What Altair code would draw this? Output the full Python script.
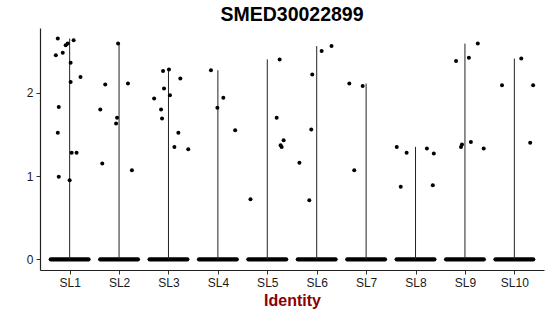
import altair as alt
import pandas as pd

groups = ["SL1", "SL2", "SL3", "SL4", "SL5", "SL6", "SL7", "SL8", "SL9", "SL10"]

# non-zero expression points: group, horizontal jitter (fraction of category spacing), value
pt_group = (["SL1"] * 15 + ["SL2"] * 8 + ["SL3"] * 11 + ["SL4"] * 4 + ["SL5"] * 6 +
            ["SL6"] * 6 + ["SL7"] * 3 + ["SL8"] * 6 + ["SL9"] * 7 + ["SL10"] * 4)
pt_jitter = [
    -0.24, 0.08, -0.28, -0.14, -0.08, -0.04, 0.02, 0.02, 0.22, -0.22, -0.24, 0.04, 0.14, -0.22, 0.00,
    -0.02, -0.28, 0.18, -0.38, -0.04, -0.06, -0.34, 0.26,
    -0.11, 0.01, 0.24, -0.09, -0.29, 0.03, -0.15, -0.13, 0.20, 0.12, 0.40,
    -0.14, 0.11, -0.01, 0.35,
    0.25, 0.19, 0.27, 0.29, 0.33, -0.34,
    0.10, 0.30, -0.09, -0.11, -0.35, -0.15,
    -0.34, -0.07, -0.24,
    -0.38, -0.18, 0.23, 0.37, -0.30, 0.35,
    0.26, 0.08, -0.18, -0.08, -0.06, 0.12, 0.38,
    0.14, -0.25, 0.38, 0.32,
]
pt_value = [
    2.65, 2.63, 2.45, 2.48, 2.57, 2.59, 2.36, 2.13, 2.19, 1.83, 1.52, 1.28, 1.28, 0.99, 0.95,
    2.59, 2.10, 2.11, 1.80, 1.70, 1.63, 1.15, 1.07,
    2.26, 2.28, 2.17, 2.05, 1.93, 1.97, 1.80, 1.69, 1.52, 1.35, 1.32,
    2.27, 1.94, 1.82, 1.55,
    2.40, 1.70, 1.37, 1.35, 1.43, 0.72,
    2.50, 2.56, 2.22, 1.56, 1.16, 0.71,
    2.11, 2.08, 1.07,
    1.35, 1.28, 1.33, 1.27, 0.87, 0.89,
    2.59, 2.42, 2.38, 1.35, 1.38, 1.41, 1.33,
    2.41, 2.09, 2.09, 1.40,
]

idx_of = {g: i + 1 for i, g in enumerate(groups)}
pts = pd.DataFrame({"group": pt_group, "jitter": pt_jitter, "value": pt_value})
pts["idx"] = pts["group"].map(idx_of)
pts["xpos"] = pts["idx"] + pts["jitter"]

grp = pd.DataFrame({"group": groups, "idx": [idx_of[g] for g in groups]})

FONT = "Liberation Sans"
xscale = alt.Scale(domain=[0.4, 10.6], nice=False, zero=False)
yscale = alt.Scale(domain=[-0.128, 2.777], nice=False, zero=False)

xaxis = alt.Axis(values=list(range(1, 11)), labelExpr="'SL' + datum.value",
                 title="Identity", titleColor="#8B0000", titleFontSize=16,
                 titleFontWeight="bold", titleFont=FONT, titlePadding=4,
                 labelFont=FONT, labelFontSize=12, labelColor="#1a1a1a",
                 labelPadding=3, tickSize=4, grid=False)
yaxis = alt.Axis(values=[0, 1, 2], format="d", title=None, labelFont=FONT, labelFontSize=12,
                 labelColor="#1a1a1a", labelPadding=3, tickSize=4, grid=False)

# zero-valued cells: dense jittered band at 0
zero_band = alt.Chart(grp).transform_calculate(
    lo="datum.idx - 0.38", hi="datum.idx + 0.38", zero="0"
).mark_rule(color="black", strokeWidth=4.4, strokeCap="round").encode(
    x=alt.X("lo:Q", scale=xscale, axis=xaxis),
    x2="hi:Q",
    y=alt.Y("zero:Q", scale=yscale, axis=yaxis),
)

# collapsed violins: thin line from 0 up to the group maximum
violin = alt.Chart(pts).transform_aggregate(
    vmax="max(value)", groupby=["idx"]
).transform_calculate(zero="0").mark_rule(color="#222222", strokeWidth=1).encode(
    x=alt.X("idx:Q", scale=xscale),
    y=alt.Y("zero:Q", scale=yscale),
    y2="vmax:Q",
)

points = alt.Chart(pts).mark_circle(color="black", opacity=1, size=16).encode(
    x=alt.X("xpos:Q", scale=xscale),
    y=alt.Y("value:Q", scale=yscale),
)

chart = alt.layer(zero_band, violin, points).properties(
    width=504, height=242,
    title=alt.TitleParams("SMED30022899", font=FONT, fontSize=19.5, fontWeight="bold",
                          color="black", anchor="middle", offset=3),
    autosize=alt.AutoSizeParams(type="none"),
    padding={"left": 40, "top": 28, "right": 6, "bottom": 46},
).configure_view(stroke=None).configure_axis(
    domainColor="#222222", domainWidth=1.2, tickColor="#333333"
)

chart.save("out.html", embed_options={"renderer": "svg", "actions": False})
